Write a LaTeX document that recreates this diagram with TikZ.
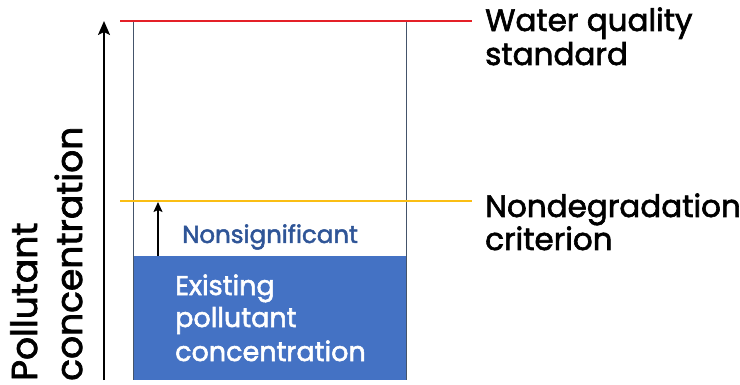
\documentclass[tikz,border=0pt]{standalone}
\usepackage{fontspec}
\setmainfont{Poppins}[FakeBold=2]
\usetikzlibrary{arrows.meta}
\definecolor{stdred}{RGB}{228,32,40}
\definecolor{ndorange}{RGB}{250,190,20}
\definecolor{fillblue}{RGB}{68,114,196}
\definecolor{edgeblue}{RGB}{68,84,106}
\definecolor{textblue}{RGB}{47,85,151}
\tikzset{
  lbl/.style={inner sep=0pt, anchor=base west, font=\fontsize{31}{34}\selectfont, text=black},
  boxtxt/.style={inner sep=0pt, anchor=base west, font=\fontsize{27}{33}\selectfont, text=white},
  axtxt/.style={inner sep=0pt, anchor=base west, rotate=90, font=\fontsize{36}{44}\selectfont, text=black},
}
\begin{document}
\begin{tikzpicture}[x=1pt,y=-1pt]
\useasboundingbox (0,0) rectangle (740,385);
% existing concentration
\fill[fillblue] (133,256) rectangle (406,380);
\draw[edgeblue, line width=1pt] (133,21) -- (133,380) (406,21) -- (406,380);
% lines
\coordinate (wl) at (120,21);
\coordinate (wr) at (472,21);
\coordinate (nl) at (120,201);
\coordinate (nr) at (472,201);
\draw[stdred, line width=2.6pt] (wl) -- (wr);
\draw[ndorange, line width=2.4pt] (nl) -- (nr);
% small arrow
\coordinate (sa0) at (158,256);
\coordinate (sa1) at (158,202);
\draw[-{Stealth[length=10pt,width=9pt,inset=2pt]}, line width=1.6pt] (sa0) -- (sa1);
% axis arrow
\coordinate (ax0) at (104,380);
\coordinate (ax1) at (104,21);
\draw[-{Stealth[length=14pt,width=12pt,inset=3pt]}, line width=2pt] (ax0) -- (ax1);
% labels
\node[lbl] (wqs1) at (485,31) {Water quality};
\node[lbl] (wqs2) at (485,65) {standard};
\node[lbl] (ndc1) at (485,217) {Nondegradation};
\node[lbl] (ndc2) at (485,250) {criterion};
\node[inner sep=0pt, anchor=base west, font=\fontsize{24.5}{28}\selectfont, text=textblue] (nsig) at (182,243) {Nonsignificant};
\node[boxtxt] (epc1) at (175,295) {Existing};
\node[boxtxt] (epc2) at (175,327) {pollutant};
\node[boxtxt] (epc3) at (175,361) {concentration};
\node[axtxt] (pc1) at (37,381) {Pollutant};
\node[axtxt] (pc2) at (82,381) {concentration};
\end{tikzpicture}
\end{document}
